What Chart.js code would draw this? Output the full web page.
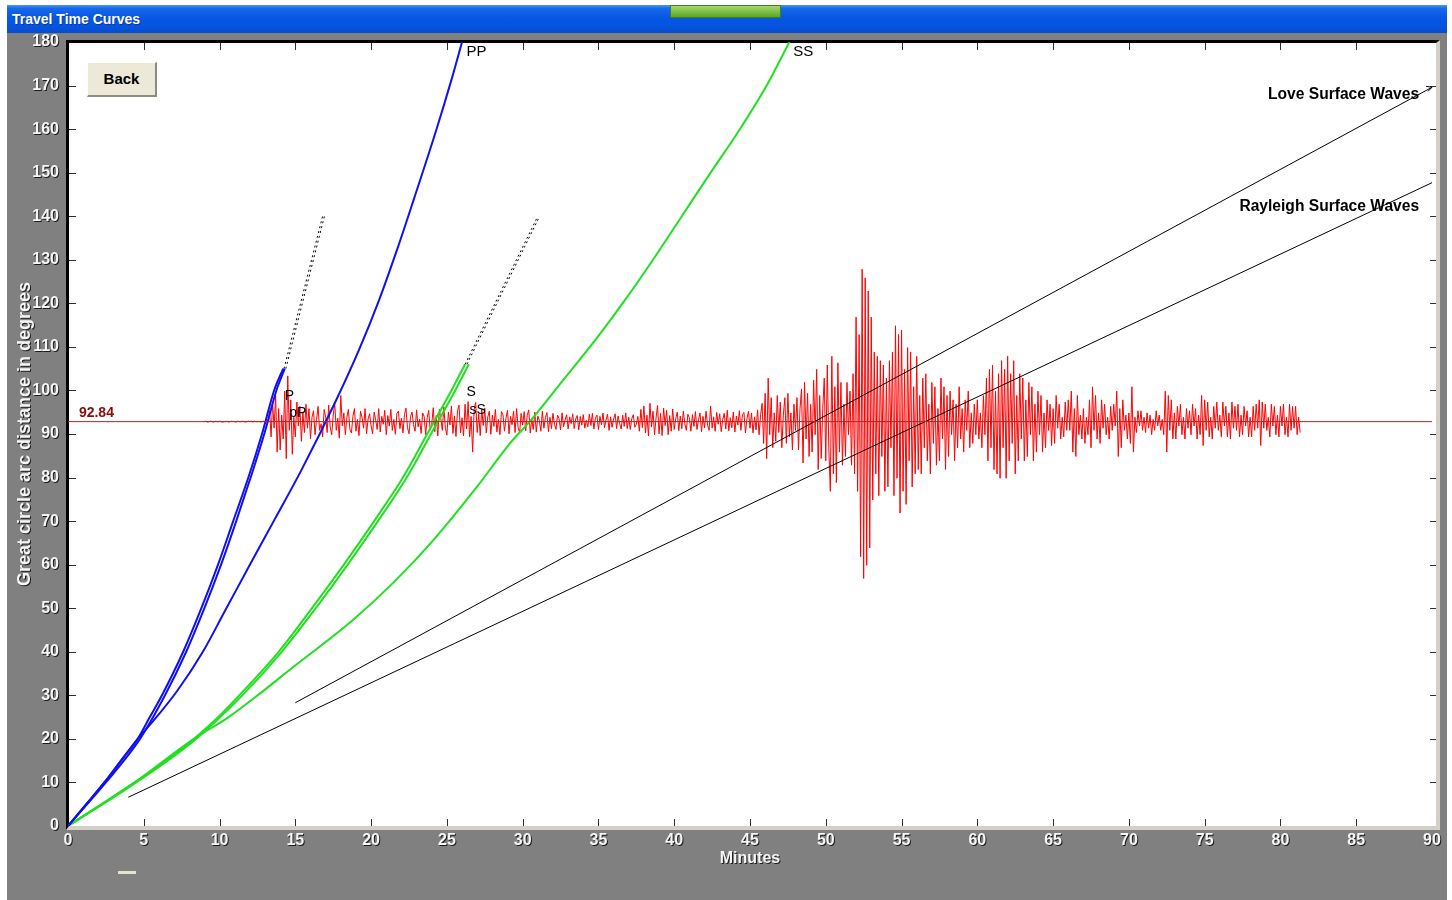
<!DOCTYPE html>
<html><head><meta charset="utf-8">
<script src="https://cdn.jsdelivr.net/npm/chart.js@4"></script>
<style>
html,body{margin:0;padding:0;background:#fff;width:1452px;height:900px;overflow:hidden}
#win{position:absolute;left:7px;top:33px;width:1440px;height:867px;background:#808080}
#titlebar{position:absolute;left:7px;top:5px;width:1440px;height:28px;background:linear-gradient(#4a96f8 0%,#1668ec 12%,#0757e2 45%,#0553de 80%,#0a4cc8 100%)}
#title{position:absolute;left:12px;top:11px;color:#fff;font:bold 14px 'Liberation Sans',Arial,sans-serif;text-shadow:1px 1px 0 #0a3a9a}
#grip{position:absolute;left:670px;top:5px;width:111px;height:13px;background:linear-gradient(#a6d86a,#5aa62a);border:1px solid #3f7d1e;box-sizing:border-box}
#plot{position:absolute;left:66px;top:40px;width:1367px;height:783px;background:#fff;border-top:3px solid #000;border-left:3px solid #000;border-right:4px solid #d4d0c8;border-bottom:4px solid #d4d0c8}
#back{position:absolute;left:87px;top:62px;width:70px;height:35px;box-sizing:border-box;background:#ece9d8;border-top:1px solid #fff;border-left:1px solid #fff;border-right:2px solid #8f8c80;border-bottom:2px solid #8f8c80;font:bold 15px 'Liberation Sans',Arial,sans-serif;color:#000;text-align:center;line-height:31px}
#small{position:absolute;left:118px;top:871px;width:18px;height:3px;background:#e6e2cc}
#wrap{position:absolute;left:0;top:0;width:1452px;height:900px}
</style></head>
<body>
<div id="win"></div>
<div id="titlebar"></div>
<div id="title">Travel Time Curves</div>
<div id="grip"></div>
<div id="plot"></div>
<div id="small"></div>
<div id="wrap"><canvas id="c" width="1452" height="900"></canvas></div>
<div id="back">Back</div>
<script>
// ---------- data (minutes / degrees) ----------
const xTicksMax = 90, yTicksMax = 180;
const epicentralDistance = 92.84;

const pTimes  = [0, 1.2, 2.4, 3.5, 4.6, 5.4, 6.2, 7.6, 8.8, 9.9, 10.9, 11.9, 12.8, 13.6, 14.2];
const pDeg    = [0, 5, 10, 15, 20, 25, 30, 40, 50, 60, 70, 80, 90, 100, 105];
const p2Times = [0, 2.5, 4.75, 6.4, 7.8, 9.0, 10.1, 11.1, 12.05, 12.95, 13.75, 14.3];
const p2Deg   = [0, 10, 20, 30, 40, 50, 60, 70, 80, 90, 100, 105];
const ppTimes = [0, 2.4, 4.6, 5.6, 7.2, 8.9, 10.3, 12.0, 13.7, 15.4, 17.7, 19.2, 20.5, 21.7, 22.8, 24.3, 25.3, 26.0];
const ppDeg   = [0, 10, 20, 24, 31, 40, 49, 60, 70.8, 81.7, 97.8, 109.3, 120.5, 132.2, 143.7, 159.8, 171.3, 180];
const sTimes  = [0, 2.2, 4.4, 6.5, 8.3, 9.9, 11.3, 13.9, 16.1, 18.2, 20.2, 22.1, 23.7, 25.3, 26.2];
const sDeg    = [0, 5, 10, 15, 20, 25, 30, 40, 50, 60, 70, 80, 90, 100, 106];
const s2Times = [0, 4.5, 8.45, 11.5, 14.1, 16.35, 18.45, 20.45, 22.35, 23.95, 25.55, 26.45];
const s2Deg   = [0, 10, 20, 30, 40, 50, 60, 70, 80, 90, 100, 106];
const ssTimes = [0, 4.4, 8.3, 10.6, 12.7, 14.9, 18.8, 21.5, 24.2, 26.9, 29.2, 30.5, 32.7, 34.8, 36.7, 38.6, 40.5, 42.4, 44.3, 46.1, 47.6];
const ssDeg   = [0, 10, 20, 25, 30.5, 36.6, 47.3, 56, 66, 77.5, 88, 93, 102.5, 111.6, 120.5, 130, 140, 150, 159.8, 170, 180];
const pExtTimes = [14.25, 16.8];
const pExtDeg   = [105, 140];
const sExtTimes = [26.2, 31.0];
const sExtDeg   = [106, 140];
const loveTimes = [15.0, 90];
const loveDeg   = [28.3, 169.6];
const rayTimes  = [3.98, 90];
const rayDeg    = [6.6, 147.7];

// seismogram: deviation (degrees) from the epicentral distance line, one row per minute, 0.1 min apart
const traceStart = 9.0, traceStep = 0.1;
const traceDev = [
 0,0.1,-0.1,0,0.1,0,-0.1,0.1,0,0,
 0.1,0,-0.1,0,0,0.1,-0.1,0,0.1,0,
 0,-0.1,0.1,0,0,0.1,0,-0.1,0,0.1,
 0,0.1,-0.1,0.1,0,0,0.1,-0.1,0,0.1,
 0,0.1,-0.2,2.5,-3.5,4.5,-1.5,6,-7,3,
 -6.5,1.5,-4,7,-8.5,10.5,-2,5,-7.5,1,
 -3.5,4.5,-1,3.5,-4.5,2,-2.5,4,-1.5,3,
 -4,1,2.5,-3,0.5,3.5,-2,-0.5,-3.5,2.8,
 1,-2.5,3.8,-1.2,-3,1.5,4.2,-2,0.8,-3.8,
 6,-1,2,-3,1,2.8,-1.8,-2.6,1.2,3,
 -2.2,0.5,-3.2,2.4,1,-1.5,3,-2.8,0.6,1.8,
 -1,-2.8,2.2,0.4,-1.8,3,-2.4,1.2,-0.6,2.6,
 -3,1.4,-1,2.8,-2,0.5,-2.9,1.9,2.4,-1.6,
 0.8,-2.6,1.6,3.1,-1.4,-2.8,1.1,2.2,-0.7,-2.2,
 2.7,-1.2,0.6,-2.7,2,1.2,-3,0.9,2.6,-1.9,
 -0.6,3.2,-2.3,1.4,-3.3,2.8,0.7,-2,3.4,-1.5,
 -3.1,2.2,-0.8,3.6,-2.7,1.3,-3.4,2.5,3.8,-2.6,
 0.9,-3.3,4,-1.7,4.6,-3.5,1.2,-7,2.8,4.4,
 -2.5,1.8,-3.2,2.9,-0.9,3.1,-2.6,1.1,2.4,-2.9,
 1.5,-1.1,2.8,-2.4,0.5,-3,2.3,1.6,-2.2,0.8,
 2.6,-2.8,1.2,-0.7,2.4,-2.5,3,-1.3,-2.6,1.9,
 -0.8,2.3,-2.1,1.4,2.7,-2.6,0.6,-1.8,2.2,-2.4,
 1.3,0.3,-2.2,2.4,-1.5,0.9,2.1,-2.3,1,-1.6,
 1.9,-0.6,-1.8,1.5,0.7,-1.9,2,-1.2,0.4,1.6,
 -1.7,1.1,-0.5,1.8,-1.6,0.6,1.4,-1.9,1.2,-0.8,
 1.6,-1.5,0.3,-1.2,1.7,-0.9,1.9,-1.7,0.8,1.5,
 -1.8,1.2,-0.7,2,-1.4,0.4,1.7,-2,1.1,-1.3,
 0.6,1.8,-1.6,1.3,-0.5,-1.7,1.5,-1.1,2,-1.6,
 1,-1.8,0.7,1.6,-1.3,-0.6,1.2,-2.2,2.8,-1.4,
 3.6,-2.6,1.5,-3.3,4.2,-1.2,2.4,-3,0.8,3.7,
 -2.8,1.9,-3.2,3.1,-0.9,2.6,-3,1.4,-2.2,2.9,
 -1.8,0.7,2.2,-2.1,1.3,-1.6,2.4,-0.5,-2,1.7,
 0.9,-2.2,1.6,-1.1,2.3,-1.8,0.4,2,-2.3,1.2,
 -1.4,2.4,-0.8,-2,3.6,-1.5,1.1,-2.2,2.1,-0.6,
 1.8,-2.3,0.5,1.9,-1.7,2.6,-2.1,0.9,-1.4,2.2,
 -2.4,1.3,-0.8,2.5,-2,1.6,2.1,-2.6,0.7,2.4,
 -1.5,2,-2.6,1.1,-1.9,2.7,-3,1.6,4.2,-5,
 6.5,-8.5,10,-3,5.5,-6,2,-4.5,6,-2.5,
 4.5,-6,1.5,5.5,-5,6.5,-3.5,2,-6.5,4,
 -2,5.5,-6.5,3,7.5,-9.5,9,-4,6.5,-8,
 4,-7,9.5,-3,12,-11,6,-8.5,3,10,
 -9,13,-6,-16,15,-12,8,-14,13.5,-7,
 9,-10,4,-8,9,-3,7,-10,11,-12,
 24,-16,20,-31,35,-36,33,-33,30,-29,
 24,-18,16,-12,15,-17,14,-8,13,-16,
 10,-15,14,-6,16,-17,22,-13,20,-21,
 21,-16,12,-19,17,-9,16,-15,8,-12,
 15,-11,6,-12,10,-6,11,-9,4,-12,
 9,-5,8,-10,3,-9,10,-4,8,-11,
 6,-8,7,-3,5,-9,4,-6,8,-4,
 3,-7,5,-2,7,-6,2,-5,4,-3,
 5,-4,2,-6,6,-3,10,-9,12,-6,
 13,-11,7,-12,11,-13,14,-6,12,-13,
 15,-9,11,-5,14,-12,6,-9,11,-4,
 10,-9,5,-8,9,-3,8,-9,4,-7,
 7,-3,6,-7,2,-6,5,-2,4,-5.5,
 3,-5,6,-1.5,4,-4,1,-3.5,4.5,-2,
 5,-2,7,-7,3,-8,6,-3,1.5,-4,
 3,-5,1,-3,5,-6,8,-2,6,-4,
 2,-5,5,-1.5,4,-3,1,-4,3.5,-2,
 4,-1,7,-8,3,-6,5,-2,1.5,-4,
 2,-5,8,-7,1,-2.5,2.5,-1,2.5,-2,
 1,-2.5,2,-1.5,1.5,-3,0.5,-2,2.5,-1,
 1.5,-2,0.5,-3,7,-7,6,-2,5,-4,
 2,-4,3.5,-1,4,-3,1,-4,3,-1.5,
 2.5,-3,4,-1,3,-4,1.5,-3,6,-5.5,
 5,-2,4.5,-3.5,1,-4,3.5,-1.5,4.5,-2,
 1.5,-3.5,4.5,-1,3.5,-3.5,2,-4,4.5,-1.5,
 3.5,-2,4,-3.5,1.5,-3,3.5,-1,2.5,-3.5,
 1,-3.5,3.5,-2,4,-1.5,5,-5.5,4.5,-1.5,
 4,-2,1,-3.5,4,-1,3.5,-3,1.5,-3.5,
 3.5,-1,4,-3,1,-3.5,4,-2,3.5,-1.5,
 3.5,-3,1,-2.5
];

const labelTexts = [
  {t:'PP', x:26.3, y:177.7, font:'15px', color:'#000', align:'left'},
  {t:'SS', x:47.85, y:177.7, font:'15px', color:'#000', align:'left'},
  {t:'P', x:14.3, y:98.8, font:'14px', color:'#000', align:'left'},
  {t:'pP', x:14.6, y:94.7, font:'14px', color:'#000', align:'left'},
  {t:'S', x:26.3, y:99.6, font:'14px', color:'#000', align:'left'},
  {t:'sS', x:26.5, y:95.5, font:'14px', color:'#000', align:'left'},
  {t:'Love Surface Waves', x:89.15, y:167.8, font:'bold 15.6px', color:'#000', align:'right'},
  {t:'Rayleigh Surface Waves', x:89.15, y:142.1, font:'bold 15.6px', color:'#000', align:'right'},
  {t:'92.84', x:0.72, y:94.8, font:'bold 14px', color:'#8b0a0a', align:'left'}
];

// ---------- build ----------
const F = "'Liberation Sans', Arial, sans-serif";
const pts = (xs, ys) => xs.map((x, i) => ({x, y: ys[i]}));
const traceData = traceDev.map((d, i) => ({x: traceStart + i * traceStep, y: epicentralDistance + d}));
const line = (data, color, width, extra) => Object.assign({data, borderColor: color, borderWidth: width, pointRadius: 0, tension: 0, fill: false}, extra || {});

const datasets = [
  line(pts([0, xTicksMax], [epicentralDistance, epicentralDistance]), '#b22222', 1),
  line(pts(loveTimes, loveDeg), '#000', 1),
  line(pts(rayTimes, rayDeg), '#000', 1),
  line(pts(pExtTimes, pExtDeg), '#000', 1, {borderDash:[2,3]}),
  line(pts(pExtTimes.map(v => v + 0.12), pExtDeg), '#000', 1, {borderDash:[2,3]}),
  line(pts(sExtTimes, sExtDeg), '#000', 1, {borderDash:[2,3]}),
  line(pts(sExtTimes.map(v => v + 0.12), sExtDeg), '#000', 1, {borderDash:[2,3]}),
  line(pts(pTimes, pDeg), '#1010f0', 2, {cubicInterpolationMode:'monotone'}),
  line(pts(p2Times, p2Deg), '#1010f0', 2, {cubicInterpolationMode:'monotone'}),
  line(pts(ppTimes, ppDeg), '#1010f0', 2, {cubicInterpolationMode:'monotone'}),
  line(pts(sTimes, sDeg), '#20e020', 2, {cubicInterpolationMode:'monotone'}),
  line(pts(s2Times, s2Deg), '#20e020', 2, {cubicInterpolationMode:'monotone'}),
  line(pts(ssTimes, ssDeg), '#20e020', 2, {cubicInterpolationMode:'monotone'}),
  line(traceData, '#ff0000', 1)
];

const shadowPlugin = {
  id: 'shadow',
  beforeDraw(c) { const ctx = c.ctx; ctx.shadowColor = 'rgba(20,20,20,0.95)'; ctx.shadowOffsetX = 1; ctx.shadowOffsetY = 1; ctx.shadowBlur = 0; },
  beforeDatasetsDraw(c) { const ctx = c.ctx; ctx.shadowColor = 'rgba(0,0,0,0)'; ctx.shadowOffsetX = 0; ctx.shadowOffsetY = 0; }
};

const decoPlugin = {
  id: 'deco',
  afterDatasetsDraw(c) {
    const ctx = c.ctx, xs = c.scales.x, ys = c.scales.y, a = c.chartArea;
    ctx.save();
    ctx.strokeStyle = '#303030'; ctx.lineWidth = 1;
    ctx.beginPath();
    xs.ticks.forEach(t => {
      if (t.value <= 0 || t.value >= xTicksMax) return;
      const px = Math.round(xs.getPixelForValue(t.value)) + 0.5;
      ctx.moveTo(px, a.bottom); ctx.lineTo(px, a.bottom - 7);
      ctx.moveTo(px, a.top + 1); ctx.lineTo(px, a.top + 8);
    });
    ys.ticks.forEach(t => {
      if (t.value <= 0 || t.value >= yTicksMax) return;
      const py = Math.round(ys.getPixelForValue(t.value)) + 0.5;
      ctx.moveTo(a.left + 1, py); ctx.lineTo(a.left + 8, py);
      ctx.moveTo(a.right - 2, py); ctx.lineTo(a.right + 4, py);
    });
    ctx.stroke();
    const lx = xs.getPixelForValue(loveTimes[1]), ly = ys.getPixelForValue(loveDeg[1]);
    ctx.beginPath(); ctx.strokeStyle = '#000';
    ctx.moveTo(lx - 6, ly - 1); ctx.lineTo(lx, ly); ctx.lineTo(lx - 4, ly + 4); ctx.stroke();
    labelTexts.forEach(l => {
      ctx.font = l.font + ' ' + F;
      ctx.fillStyle = l.color;
      ctx.textAlign = l.align;
      ctx.textBaseline = 'middle';
      ctx.fillText(l.t, xs.getPixelForValue(l.x), ys.getPixelForValue(l.y));
    });
    ctx.restore();
  }
};

new Chart(document.getElementById('c'), {
  type: 'line',
  data: {datasets},
  plugins: [shadowPlugin, decoPlugin],
  options: {
    responsive: false, animation: false, devicePixelRatio: 1,
    layout: {padding: {left: 0, top: 42, right: 20, bottom: 0}},
    plugins: {legend: {display: false}, tooltip: {enabled: false}},
    scales: {
      x: {
        type: 'linear', min: 0, max: xTicksMax,
        afterFit(s) { s.height = 74; },
        grid: {display: false, drawTicks: false}, border: {display: false},
        ticks: {stepSize: 5, autoSkip: false, maxRotation: 0, padding: 5, color: '#f6f6f6', font: {family: F, size: 16, weight: 'bold'}},
        title: {display: true, text: 'Minutes', color: '#f6f6f6', font: {family: F, size: 16, weight: 'bold'}, padding: {top: 0, bottom: 32}}
      },
      y: {
        type: 'linear', min: 0, max: yTicksMax,
        afterFit(s) { s.width = 68; },
        grid: {display: false, drawTicks: false}, border: {display: false},
        ticks: {stepSize: 10, autoSkip: false, padding: 9, color: '#f6f6f6', font: {family: F, size: 16, weight: 'bold'}},
        title: {display: true, text: 'Great circle arc distance in degrees', color: '#f6f6f6', font: {family: F, size: 18, weight: 'bold'}, padding: {top: 14, bottom: 0}}
      }
    }
  }
});
</script>
</body></html>
